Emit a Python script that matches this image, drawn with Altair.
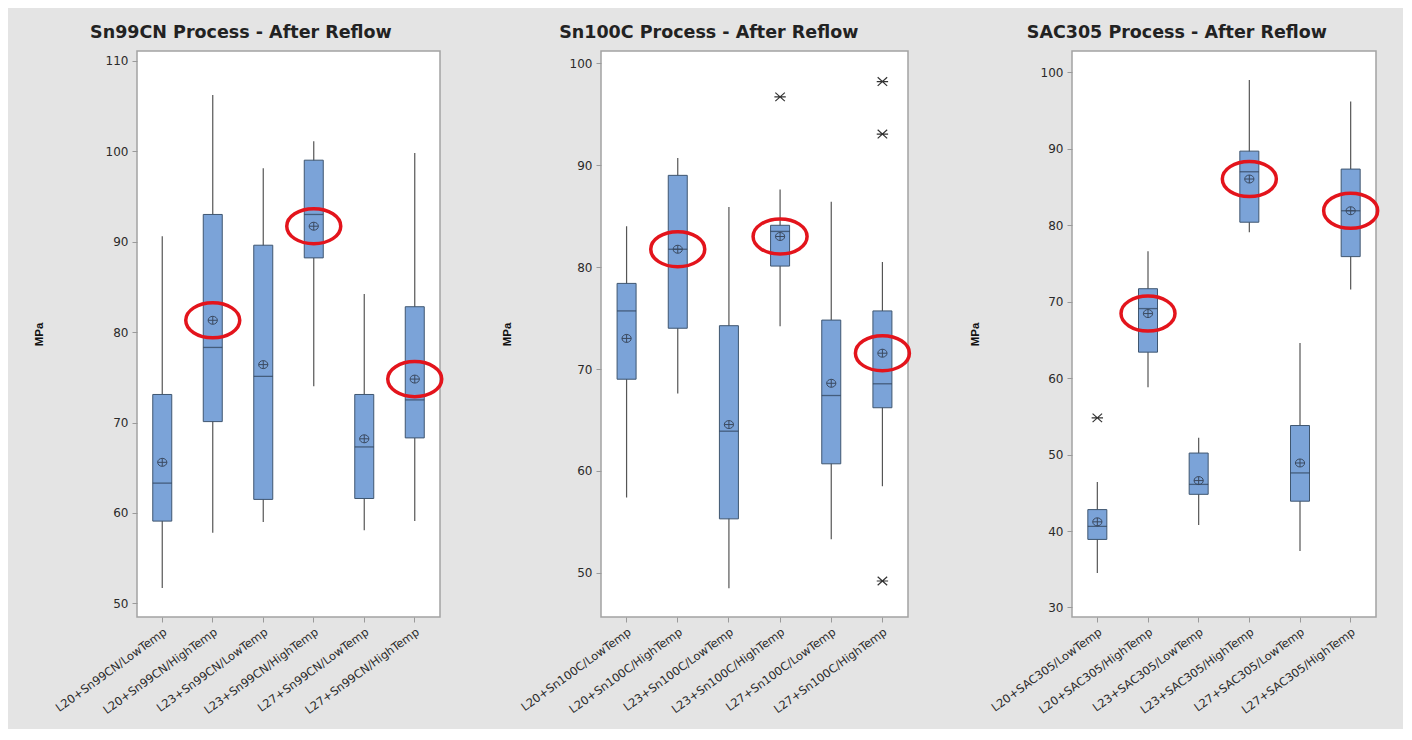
import altair as alt
import pandas as pd

# ---------------- data ----------------
titles = ["Sn99CN Process - After Reflow", "Sn100C Process - After Reflow", "SAC305 Process - After Reflow"]

cats1 = ["L20+Sn99CN/LowTemp", "L20+Sn99CN/HighTemp", "L23+Sn99CN/LowTemp",
         "L23+Sn99CN/HighTemp", "L27+Sn99CN/LowTemp", "L27+Sn99CN/HighTemp"]
cats2 = ["L20+Sn100C/LowTemp", "L20+Sn100C/HighTemp", "L23+Sn100C/LowTemp",
         "L23+Sn100C/HighTemp", "L27+Sn100C/LowTemp", "L27+Sn100C/HighTemp"]
cats3 = ["L20+SAC305/LowTemp", "L20+SAC305/HighTemp", "L23+SAC305/LowTemp",
         "L23+SAC305/HighTemp", "L27+SAC305/LowTemp", "L27+SAC305/HighTemp"]

p1_wlo = [51.7, 57.8, 59.0, 74.0, 58.1, 59.1]
p1_q1 = [59.1, 70.1, 61.5, 88.2, 61.6, 68.3]
p1_med = [63.3, 78.3, 75.1, 93.0, 67.3, 72.5]
p1_mean = [65.6, 81.3, 76.4, 91.7, 68.2, 74.8]
p1_q3 = [73.1, 93.0, 89.6, 99.0, 73.1, 82.8]
p1_whi = [90.6, 106.2, 98.1, 101.1, 84.2, 99.8]
p1_out_cat = []
p1_out_val = []

p2_wlo = [57.4, 67.6, 48.5, 74.2, 53.3, 58.5]
p2_q1 = [69.0, 74.0, 55.3, 80.1, 60.7, 66.2]
p2_med = [75.7, 81.75, 63.9, 83.5, 67.4, 68.55]
p2_mean = [73.0, 81.75, 64.55, 83.0, 68.6, 71.55]
p2_q3 = [78.4, 89.0, 74.25, 84.1, 74.8, 75.7]
p2_whi = [84.0, 90.7, 85.9, 87.6, 86.4, 80.5]
p2_out_cat = ["L23+Sn100C/HighTemp", "L27+Sn100C/HighTemp", "L27+Sn100C/HighTemp", "L27+Sn100C/HighTemp"]
p2_out_val = [96.7, 98.2, 93.05, 49.2]

p3_wlo = [34.5, 58.8, 40.8, 79.1, 37.4, 71.6]
p3_q1 = [38.9, 63.4, 44.8, 80.4, 43.9, 75.9]
p3_med = [40.6, 69.1, 46.1, 87.0, 47.6, 81.9]
p3_mean = [41.2, 68.45, 46.6, 86.05, 48.9, 81.9]
p3_q3 = [42.8, 71.7, 50.2, 89.7, 53.8, 87.35]
p3_whi = [46.4, 76.6, 52.2, 99.0, 64.6, 96.2]
p3_out_cat = ["L20+SAC305/LowTemp"]
p3_out_val = [54.8]

circled = [False, True, False, True, False, True]

y_domains = [[48.5, 111.07], [45.67, 101.2], [28.75, 102.8]]
y_ticks = [[50, 60, 70, 80, 90, 100, 110], [50, 60, 70, 80, 90, 100], [30, 40, 50, 60, 70, 80, 90, 100]]
panel_widths = [303, 307, 304]
title_pads = [61, 57, 60]

# ---------------- styling ----------------
BOX_FILL = "#7ba3d8"
BOX_STROKE = "#3f5670"
WHISK = "#555555"
MEAN_PATH = "M-1.15,0A1.15,1 0 1,0 1.15,0A1.15,1 0 1,0 -1.15,0M-1.15,0L1.15,0M0,-1L0,1"
STAR_PATH = "M-1.2,0L1.2,0M-1,-0.9L1,0.9M-1,0.9L1,-0.9"
ELLIPSE_PATH = "M-1,0A1,0.65 0 1,0 1,0A1,0.65 0 1,0 -1,0"


def panel(i, cats, wlo, q1, med, mean, q3, whi, out_cat, out_val):
    df = pd.DataFrame({"cat": cats, "wlo": wlo, "q1": q1, "med": med,
                       "mean": mean, "q3": q3, "whi": whi, "circ": circled})
    odf = pd.DataFrame({"cat": out_cat, "val": out_val})
    yaxis = alt.Axis(values=y_ticks[i], title="MPa", titlePadding=title_pads[i])
    yscale = alt.Scale(domain=y_domains[i], nice=False, zero=False)
    x = alt.X("cat:N", sort=cats, title=None,
              scale=alt.Scale(paddingInner=0, paddingOuter=0),
              axis=alt.Axis(labelAngle=-36, labelAlign="right", labelBaseline="top"))

    def Y(field):
        return alt.Y(field, type="quantitative", scale=yscale, axis=yaxis)

    base = alt.Chart(df)
    whisk = base.mark_rule(color=WHISK, strokeWidth=1.2).encode(x=x, y=Y("wlo"), y2="whi")
    box = base.mark_bar(size=19, fill=BOX_FILL, stroke=BOX_STROKE, strokeWidth=1).encode(
        x=x, y=Y("q1"), y2="q3")
    medl = base.mark_tick(size=19, thickness=1.3, color="#2e3e55").encode(x=x, y=Y("med"))
    meanp = base.mark_point(shape=MEAN_PATH, size=64, filled=False, stroke="#3b4a60",
                            strokeWidth=1, opacity=1).encode(x=x, y=Y("mean"))
    ell = base.transform_filter("datum.circ").mark_point(
        shape=ELLIPSE_PATH, size=2916, filled=False, stroke="#e3141c",
        strokeWidth=3.5, opacity=1).encode(x=x, y=Y("mean"))
    layers = [whisk, box, medl, meanp, ell]
    if len(odf):
        outs = alt.Chart(odf).mark_point(shape=STAR_PATH, size=90, filled=False,
                                         stroke="#333333", strokeWidth=1.2, opacity=1).encode(
            x=x, y=Y("val"))
        layers.append(outs)
    return alt.layer(*layers).properties(
        width=panel_widths[i], height=566,
        title=alt.TitleParams(titles[i], frame="bounds", anchor="middle", offset=10,
                              fontSize=17.5, font="DejaVu Sans", fontWeight="bold", color="#222222"))


p1 = panel(0, cats1, p1_wlo, p1_q1, p1_med, p1_mean, p1_q3, p1_whi, p1_out_cat, p1_out_val)
p2 = panel(1, cats2, p2_wlo, p2_q1, p2_med, p2_mean, p2_q3, p2_whi, p2_out_cat, p2_out_val)
p3 = panel(2, cats3, p3_wlo, p3_q1, p3_med, p3_mean, p3_q3, p3_whi, p3_out_cat, p3_out_val)

chart = alt.hconcat(p1, p2, p3, spacing=50).resolve_scale(x="independent", y="independent").configure(
    background="#e4e4e4",
    padding={"left": 24, "top": 14, "right": 17, "bottom": 12},
).configure_view(
    fill="white", stroke="#a3a3a3", strokeWidth=1.5
).configure_axis(
    grid=False, domain=False, tickColor="#9a9a9a", tickSize=5, labelPadding=4,
    labelFont="DejaVu Sans", labelColor="#2a2a2a",
    titleFont="Liberation Sans", titleFontWeight="bold", titleFontSize=11.5, titleColor="#111111",
).configure_axisY(
    labelFontSize=12
).configure_axisX(
    labelFontSize=11.5
)

chart.save("out.html", embed_options={"renderer": "svg", "actions": False})
